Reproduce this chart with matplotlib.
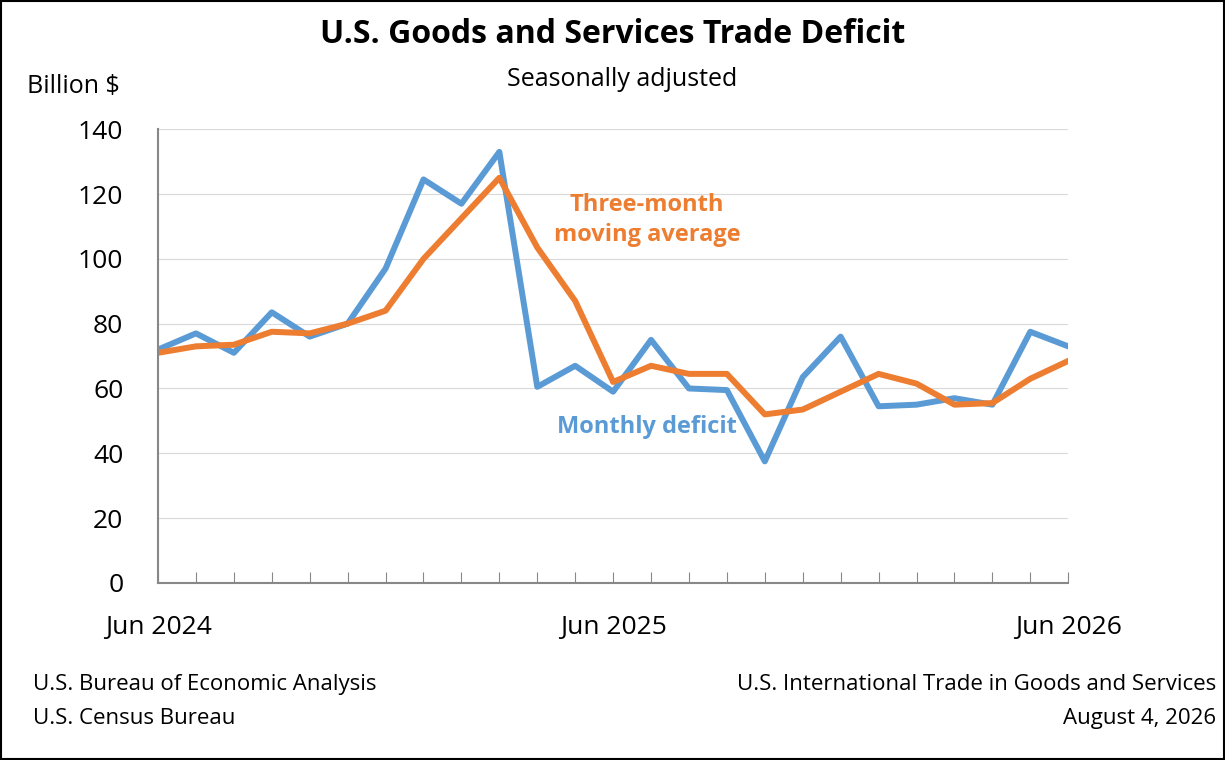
import matplotlib
matplotlib.use("Agg")
import matplotlib.pyplot as plt
from matplotlib.patches import Rectangle

months = list(range(25))
monthly = [72, 77, 71, 83.5, 76, 80, 97, 124.5, 117, 133, 60.5, 67, 59, 75, 60, 59.5,
           37.5, 63.5, 76, 54.5, 55, 57, 55, 77.5, 73]
moving_avg = [71, 73, 73.5, 77.5, 77, 80, 84, 100, 112.5, 125, 103.5, 87, 62, 67, 64.5,
              64.5, 52, 53.5, 59, 64.5, 61.5, 55, 55.5, 63, 68.5]
tick_labels = {0: "Jun 2024", 12: "Jun 2025", 24: "Jun 2026"}

plt.rcParams['font.family'] = ['Open Sans', 'DejaVu Sans']
fig = plt.figure(figsize=(12.25, 7.6), dpi=100)
ax = fig.add_axes([0.129, 0.233, 0.743, 0.597])
fig.patches.append(Rectangle((0.001, 0.001), 0.998, 0.998, transform=fig.transFigure,
                             fill=False, edgecolor='black', linewidth=1.5))

ax.plot(months, monthly, color='#5B9BD5', linewidth=4.3, solid_joinstyle='round')
ax.plot(months, moving_avg, color='#ED7D31', linewidth=4.3, solid_joinstyle='round')

ax.set_xlim(0, 24)
ax.set_ylim(0, 140)
ax.set_yticks(range(0, 141, 20))
ax.set_xticks(months)
ax.set_xticklabels([""] * 25)
ax.tick_params(axis='x', length=8, color='#888888', direction='in')
ax.tick_params(axis='y', length=0, labelsize=19, pad=25)
ax.grid(axis='y', color='#d9d9d9', linewidth=0.8)
for s in ['top', 'right']:
    ax.spines[s].set_visible(False)
for s in ['left', 'bottom']:
    ax.spines[s].set_color('#888888')
    ax.spines[s].set_linewidth(1.5)
for k, lab in tick_labels.items():
    ax.text(k, -10, lab, ha='center', va='top', fontsize=19, transform=ax.transData)

fig.text(0.5, 0.955, "U.S. Goods and Services Trade Deficit", ha='center', va='center',
         fontsize=23, fontweight='bold')
fig.text(0.508, 0.896, "Seasonally adjusted", ha='center', va='center', fontsize=18)
fig.text(0.022, 0.886, "Billion $", ha='left', va='center', fontsize=18)
ax.text(12.9, 112, "Three-month\nmoving average", color='#ED7D31', fontsize=17,
        fontweight='bold', ha='center', va='center', linespacing=1.3)
ax.text(12.9, 48, "Monthly deficit", color='#5B9BD5', fontsize=17,
        fontweight='bold', ha='center', va='center')
fig.text(0.027, 0.099, "U.S. Bureau of Economic Analysis", fontsize=16, va='center')
fig.text(0.027, 0.054, "U.S. Census Bureau", fontsize=16, va='center')
fig.text(0.993, 0.099, "U.S. International Trade in Goods and Services", fontsize=16,
         va='center', ha='right')
fig.text(0.993, 0.054, "August 4, 2026", fontsize=16, va='center', ha='right')
fig.savefig("out.png")
